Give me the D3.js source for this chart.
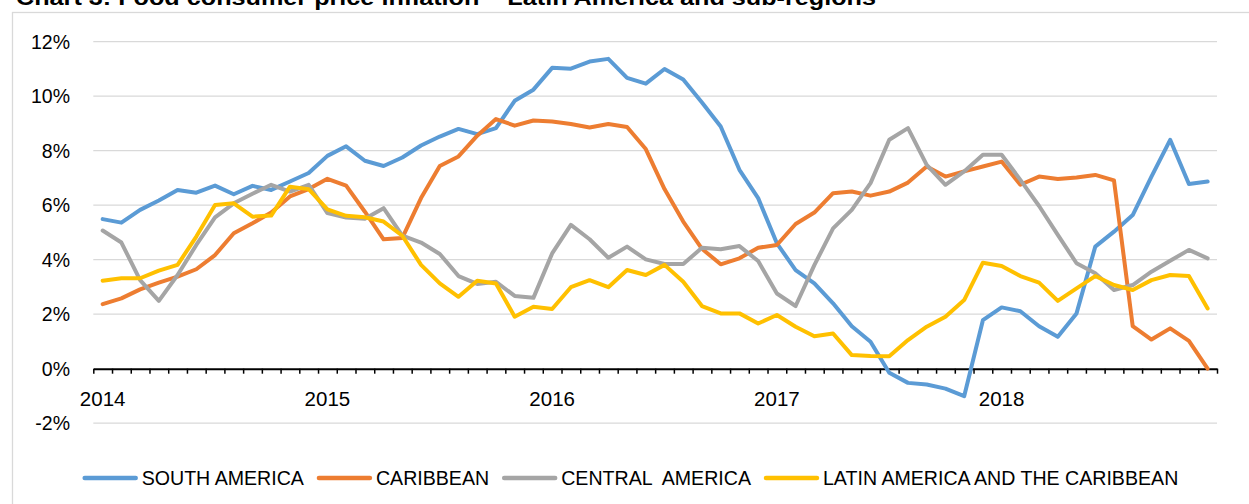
<!DOCTYPE html>
<html>
<head>
<meta charset="utf-8">
<script src="https://cdn.jsdelivr.net/npm/d3@7"></script>
<style>
  html, body { margin: 0; padding: 0; background: #fff; }
  svg { display: block; font-family: 'Liberation Sans', Arial, sans-serif; }
</style>
</head>
<body>
<div id="chart"></div>
<script>
// ---- data (monthly, Jan 2014 – Dec 2018, % y/y) ----
const years = ['2014', '2015', '2016', '2017', '2018'];
const months = years.flatMap(y => d3.range(1, 13).map(m => `${y}-${String(m).padStart(2, '0')}`));

const southAmerica = [5.49, 5.36, 5.83, 6.17, 6.56, 6.46, 6.72, 6.40, 6.71, 6.56, 6.87, 7.18,
  7.81, 8.16, 7.63, 7.44, 7.75, 8.19, 8.52, 8.80, 8.61, 8.83, 9.83, 10.24,
  11.04, 11.01, 11.27, 11.37, 10.67, 10.46, 11.00, 10.61, 9.77, 8.89, 7.30, 6.26,
  4.60, 3.62, 3.13, 2.40, 1.56, 0.99, -0.15, -0.52, -0.58, -0.73, -1.01, 1.78,
  2.25, 2.11, 1.56, 1.17, 2.03, 4.48, 5.03, 5.64, 7.05, 8.40, 6.78, 6.87];
const caribbean = [2.37, 2.58, 2.91, 3.16, 3.38, 3.65, 4.17, 4.97, 5.34, 5.73, 6.32, 6.59,
  6.97, 6.72, 5.76, 4.75, 4.80, 6.26, 7.44, 7.79, 8.55, 9.16, 8.92, 9.11,
  9.07, 8.98, 8.85, 8.98, 8.87, 8.06, 6.59, 5.40, 4.40, 3.83, 4.05, 4.44,
  4.54, 5.31, 5.73, 6.44, 6.50, 6.35, 6.50, 6.83, 7.42, 7.05, 7.24, 7.42,
  7.60, 6.75, 7.05, 6.96, 7.02, 7.11, 6.91, 1.56, 1.07, 1.48, 1.02, 0.00];
const centralAmerica = [5.07, 4.63, 3.25, 2.49, 3.44, 4.54, 5.55, 6.07, 6.42, 6.75, 6.50, 6.75,
  5.71, 5.55, 5.50, 5.89, 4.88, 4.63, 4.21, 3.40, 3.11, 3.19, 2.67, 2.60,
  4.23, 5.28, 4.75, 4.07, 4.48, 4.01, 3.84, 3.84, 4.44, 4.38, 4.50, 3.95,
  2.76, 2.30, 3.80, 5.15, 5.83, 6.81, 8.40, 8.83, 7.48, 6.75, 7.24, 7.85,
  7.85, 6.93, 5.97, 4.91, 3.87, 3.50, 2.89, 3.07, 3.56, 3.96, 4.36, 4.05];
const latinAmerica = [3.23, 3.32, 3.32, 3.60, 3.81, 4.85, 6.01, 6.07, 5.58, 5.62, 6.68, 6.59,
  5.85, 5.61, 5.56, 5.40, 4.88, 3.81, 3.13, 2.64, 3.23, 3.13, 1.91, 2.27,
  2.19, 2.99, 3.25, 2.99, 3.62, 3.44, 3.81, 3.19, 2.30, 2.03, 2.03, 1.66,
  1.97, 1.54, 1.19, 1.29, 0.50, 0.47, 0.46, 1.05, 1.54, 1.91, 2.52, 3.89,
  3.77, 3.40, 3.16, 2.49, 2.95, 3.40, 3.07, 2.89, 3.25, 3.44, 3.40, 2.21];

const seriesNames = ['SOUTH AMERICA', 'CARIBBEAN', 'CENTRAL  AMERICA', 'LATIN AMERICA AND THE CARIBBEAN'];
const seriesColors = ['#5B9BD5', '#ED7D31', '#A5A5A5', '#FFC000'];
const yTicks = [-2, 0, 2, 4, 6, 8, 10, 12];

const series = [southAmerica, caribbean, centralAmerica, latinAmerica].map((vals, k) => ({
  name: seriesNames[k], color: seriesColors[k], values: vals
}));

// ---- layout ----
const W = 1249, H = 504;
const svg = d3.select('#chart').append('svg').attr('width', W).attr('height', H);

// chart frame (runs off the window on right/bottom)
svg.append('rect')
  .attr('x', 12.5).attr('y', 12.5).attr('width', 1300).attr('height', 600)
  .attr('fill', '#fff').attr('stroke', '#D9D9D9').attr('stroke-width', 1.3);

// title, cut off at the top edge like the source
svg.append('text')
  .attr('x', 16).attr('y', 5)
  .attr('font-size', 22).attr('font-weight', 'bold').attr('fill', '#000')
  .attr('textLength', 860).attr('lengthAdjust', 'spacingAndGlyphs')
  .text('Chart 3: Food consumer price inflation \u2013 Latin America and sub-regions');

const x = d3.scaleLinear().domain([0, months.length]).range([93.3, 1217]);
const y = d3.scaleLinear().domain([-2, 12]).range([423.2, 41.7]);

// gridlines
svg.append('g')
  .selectAll('line').data(yTicks.filter(t => t !== 0)).join('line')
  .attr('x1', x(0)).attr('x2', x(months.length))
  .attr('y1', d => y(d)).attr('y2', d => y(d))
  .attr('stroke', '#D9D9D9').attr('stroke-width', 1.3);

// y labels
svg.append('g')
  .selectAll('text').data(yTicks).join('text')
  .attr('x', 70).attr('y', d => y(d)).attr('dy', '0.36em')
  .attr('text-anchor', 'end').attr('font-size', 19.5).attr('fill', '#000')
  .text(d => d + '%');

// x axis at 0%: tick marks between months
const axis = svg.append('g').attr('transform', `translate(0,${y(0)})`)
  .call(d3.axisBottom(x).tickValues(d3.range(months.length + 1)).tickSize(5).tickSizeOuter(0).tickFormat(''));
axis.select('.domain').attr('stroke', '#000').attr('stroke-width', 2);
axis.selectAll('.tick line').attr('stroke', '#000').attr('stroke-width', 1.5);

// year labels centred on January
svg.append('g')
  .selectAll('text').data(years).join('text')
  .attr('x', (d, i) => x(i * 12 + 0.5)).attr('y', 406)
  .attr('text-anchor', 'middle').attr('font-size', 20.5).attr('fill', '#000')
  .text(d => d);

// lines
const line = d3.line().x((d, i) => x(i + 0.5)).y(d => y(d));
svg.append('g')
  .selectAll('path').data(series).join('path')
  .attr('d', d => line(d.values))
  .attr('fill', 'none').attr('stroke', d => d.color).attr('stroke-width', 4)
  .attr('stroke-linejoin', 'round').attr('stroke-linecap', 'round');

// legend
const lg = svg.append('g');
const items = lg.selectAll('g').data(series).join('g');
items.append('line')
  .attr('x1', 2).attr('x2', 53).attr('y1', 0).attr('y2', 0)
  .attr('stroke', d => d.color).attr('stroke-width', 4.5).attr('stroke-linecap', 'round');
items.append('text')
  .attr('x', 59).attr('y', 0).attr('dy', '0.36em')
  .attr('font-size', 19.6).attr('fill', '#000').style('white-space', 'pre')
  .text(d => d.name);
let cx = 0;
items.each(function () {
  const g = d3.select(this);
  g.attr('transform', `translate(${cx},0)`);
  cx += 59 + g.select('text').node().getComputedTextLength() + 13;
});
const total = cx - 13;
lg.attr('transform', `translate(${630.5 - total / 2},478)`);
</script>
</body>
</html>
